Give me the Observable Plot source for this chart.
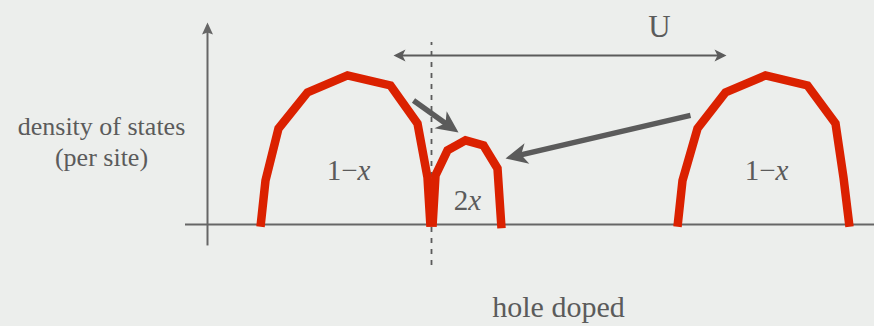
<!DOCTYPE html>
<html>
<head>
<meta charset="utf-8">
<script src="https://cdn.jsdelivr.net/npm/d3@7"></script>
<script src="https://cdn.jsdelivr.net/npm/@observablehq/plot@0.6"></script>
<style>
  html, body { margin: 0; padding: 0; background: #eceeec; }
  #chart { width: 874px; height: 326px; overflow: hidden; }
</style>
</head>
<body>
<div id="chart"></div>
<script>
// Schematic density of states of a hole-doped Mott insulator.
// Energy in arbitrary units, density normalised to the peak of a Hubbard band.
const lowerBandEnergy  = [0.53, 0.58, 0.71, 1.00, 1.40, 1.83, 2.10, 2.20, 2.23];
const lowerBandDensity = [-0.015, 0.295, 0.644, 0.886, 1.00, 0.933, 0.678, 0.315, -0.015];
const holeBandEnergy   = [2.25, 2.28, 2.40, 2.58, 2.76, 2.90, 2.94];
const holeBandDensity  = [-0.015, 0.329, 0.497, 0.564, 0.530, 0.376, -0.025];
const upperBandEnergy  = [4.70, 4.75, 4.90, 5.18, 5.58, 6.00, 6.28, 6.36, 6.42];
const upperBandDensity = [-0.015, 0.295, 0.644, 0.886, 1.00, 0.933, 0.678, 0.315, -0.015];

// Spectral weight carried by each band, and where its label sits
const bandWeights      = ["1−x", "2x", "1−x"];
const bandWeightEnergy = [1.41, 2.60, 5.59];
const bandWeightLevel  = [0.295, 0.10, 0.295];

const chemicalPotential = 2.24;          // dashed line
const hubbardGap = [1.89, 5.16];         // span of the U bracket
// Spectral weight transferred into the doped-hole band: [from, to] as [energy, density]
const transfers = [
  [[2.06, 0.832], [2.445, 0.648]],
  [[4.83, 0.732], [3.058, 0.455]]
];

const bands = [
  ...lowerBandEnergy.map((e, i) => ({band: "lower", energy: e, density: lowerBandDensity[i]})),
  ...holeBandEnergy.map((e, i) => ({band: "hole", energy: e, density: holeBandDensity[i]})),
  ...upperBandEnergy.map((e, i) => ({band: "upper", energy: e, density: upperBandDensity[i]}))
];
const weightLabels = bandWeights.map((t, i) => ({text: t, energy: bandWeightEnergy[i], density: bandWeightLevel[i]}));

const ink = "#5b5b5b";
const axisInk = "#666666";

// Filled, notched arrowhead drawn in pixel units; `tip` is how far it reaches past the line end.
function arrowHead({length, half, notch, tip, orient = "auto"}) {
  return (color) => {
    const ns = "http://www.w3.org/2000/svg";
    const m = document.createElementNS(ns, "marker");
    const pad = length + half + tip + 4;
    m.setAttribute("viewBox", `${-pad} ${-pad} ${2 * pad} ${2 * pad}`);
    m.setAttribute("markerWidth", 2 * pad);
    m.setAttribute("markerHeight", 2 * pad);
    m.setAttribute("markerUnits", "userSpaceOnUse");
    m.setAttribute("refX", 0);
    m.setAttribute("refY", 0);
    m.setAttribute("orient", orient);
    m.setAttribute("overflow", "visible");
    const p = document.createElementNS(ns, "path");
    const back = tip - length;
    p.setAttribute("d", `M${tip},0L${back},${-half}L${back + notch},0L${back},${half}Z`);
    p.setAttribute("fill", color);
    p.setAttribute("stroke", "none");
    m.appendChild(p);
    return m;
  };
}

const bigHead = arrowHead({length: 22, half: 10.5, notch: 6, tip: 8});
const thinHeadEnd = arrowHead({length: 12, half: 6, notch: 3, tip: 3});
const thinHeadStart = arrowHead({length: 12, half: 6, notch: 3, tip: 3, orient: "auto-start-reverse"});
const axisHead = arrowHead({length: 12, half: 5.5, notch: 2, tip: 3});

const plot = Plot.plot({
  width: 874,
  height: 326,
  margin: 0,
  x: {domain: [-2.07, 6.67], axis: null},
  y: {domain: [-0.685, 1.503], axis: null},
  style: {background: "#eceeec", fontFamily: "'Liberation Serif', 'Times New Roman', serif", color: ink},
  marks: [
    // axes
    Plot.ruleY([0], {x1: -0.22, x2: 6.67, stroke: axisInk, strokeWidth: 2}),
    Plot.link([0], {x1: 0, x2: 0, y1: -0.141, y2: 1.336, stroke: axisInk, strokeWidth: 2, markerEnd: axisHead}),
    // chemical potential
    Plot.ruleX([chemicalPotential], {y1: -0.275, y2: 1.221, stroke: ink, strokeWidth: 1.8, strokeDasharray: "5,6"}),
    // Hubbard U bracket
    Plot.link([hubbardGap], {
      x1: (d) => d[0], x2: (d) => d[1], y1: 1.134, y2: 1.134,
      stroke: ink, strokeWidth: 1.8, markerStart: thinHeadStart, markerEnd: thinHeadEnd
    }),
    Plot.text(["U"], {x: 4.52, y: 1.255, lineAnchor: "bottom", fontSize: 31, fill: ink}),
    // bands
    Plot.line(bands, {
      x: "energy", y: "density", z: "band",
      stroke: "#db2100", strokeWidth: 8.5,
      strokeLinejoin: "miter", strokeMiterlimit: 4, strokeLinecap: "butt", curve: "linear"
    }),
    // spectral weight transfer
    Plot.link(transfers, {
      x1: (d) => d[0][0], y1: (d) => d[0][1], x2: (d) => d[1][0], y2: (d) => d[1][1],
      stroke: ink, strokeWidth: 5.5, strokeLinecap: "butt", markerEnd: bigHead
    }),
    // labels
    Plot.text(weightLabels, {
      x: "energy", y: "density", text: "text", lineAnchor: "bottom",
      fontSize: 29, fill: ink, className: "band-weight", style: "letter-spacing:2px"
    }),
    Plot.text(["density of states\n(per site)"], {
      x: -1.06, y: 0.389, lineAnchor: "bottom", lineHeight: 1.2, fontSize: 26, fill: ink,
      style: "letter-spacing:0.4px"
    }),
    Plot.text(["hole doped"], {
      x: 3.51, y: -0.624, lineAnchor: "bottom", fontSize: 30, fill: ink, style: "letter-spacing:1px"
    })
  ]
});

// the doping variable x is set in italics
d3.select(plot).selectAll(".band-weight text").each(function () {
  const t = this.textContent;
  const head = t.slice(0, -1);
  const sel = d3.select(this);
  sel.text(null);
  sel.append("tspan").text(head);
  sel.append("tspan").attr("font-style", "italic").text(t.slice(-1));
});

document.getElementById("chart").appendChild(plot);
</script>
</body>
</html>
